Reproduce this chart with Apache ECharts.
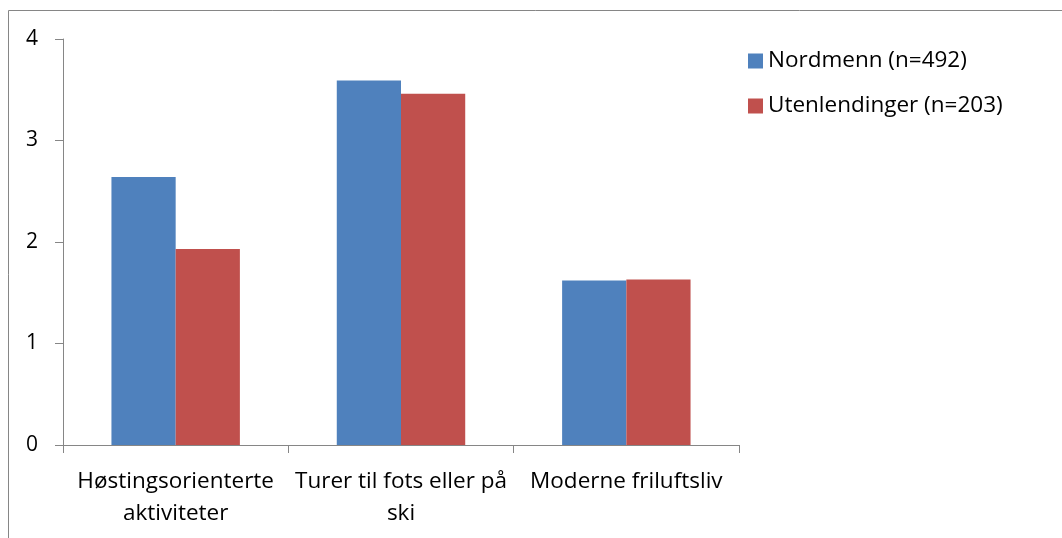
<!DOCTYPE html>
<html>
<head>
<meta charset="utf-8">
<script src="https://cdn.jsdelivr.net/npm/echarts@6/dist/echarts.min.js"></script>
<style>
  html, body { margin: 0; padding: 0; background: #fff; }
  #chart { width: 1062px; height: 538px; }
</style>
</head>
<body>
<div id="chart"></div>
<script>
// data
var categories = ['Høstingsorienterte\naktiviteter', 'Turer til fots eller på\nski', 'Moderne friluftsliv'];
var nordmenn = [2.64, 3.59, 1.62];
var utenlendinger = [1.93, 3.46, 1.63];
var seriesNames = ['Nordmenn (n=492)', 'Utenlendinger (n=203)'];

var chart = echarts.init(document.getElementById('chart'));
var axisGrey = '#868686';
var font = '"Open Sans", Lato, sans-serif';

chart.setOption({
    backgroundColor: '#fff',
    animation: false,
    textStyle: { fontFamily: font, color: '#000' },
    graphic: [{
        type: 'rect',
        shape: { x: 8.5, y: 10.5, width: 1100, height: 600 },
        style: { fill: 'none', stroke: axisGrey, lineWidth: 1 }
    }],
    grid: { left: 63, top: 39, width: 676, height: 406 },
    legend: {
        orient: 'vertical',
        left: 748,
        top: 49,
        padding: 0,
        icon: 'rect',
        itemWidth: 15,
        itemHeight: 15,
        itemGap: 21,
        data: seriesNames,
        textStyle: { fontFamily: font, fontSize: 22.5, lineHeight: 24, color: '#000' }
    },
    xAxis: {
        type: 'category',
        data: categories,
        axisLine: { lineStyle: { color: axisGrey } },
        axisTick: { show: true, length: 8, lineStyle: { color: axisGrey } },
        axisLabel: {
            interval: 0,
            margin: 21,
            fontFamily: font,
            fontSize: 22.5,
            lineHeight: 32,
            color: '#000'
        }
    },
    yAxis: {
        type: 'value',
        min: 0,
        max: 4,
        interval: 1,
        splitLine: { show: false },
        axisLine: { show: true, lineStyle: { color: axisGrey } },
        axisTick: { show: true, length: 8, lineStyle: { color: axisGrey } },
        axisLabel: { margin: 25, fontFamily: font, fontSize: 21, color: '#000' }
    },
    series: [
        {
            name: seriesNames[0],
            type: 'bar',
            data: nordmenn,
            barGap: '0%',
            barCategoryGap: '43%',
            itemStyle: { color: '#4F81BD' }
        },
        {
            name: seriesNames[1],
            type: 'bar',
            data: utenlendinger,
            itemStyle: { color: '#C0504D' }
        }
    ]
});
</script>
</body>
</html>
